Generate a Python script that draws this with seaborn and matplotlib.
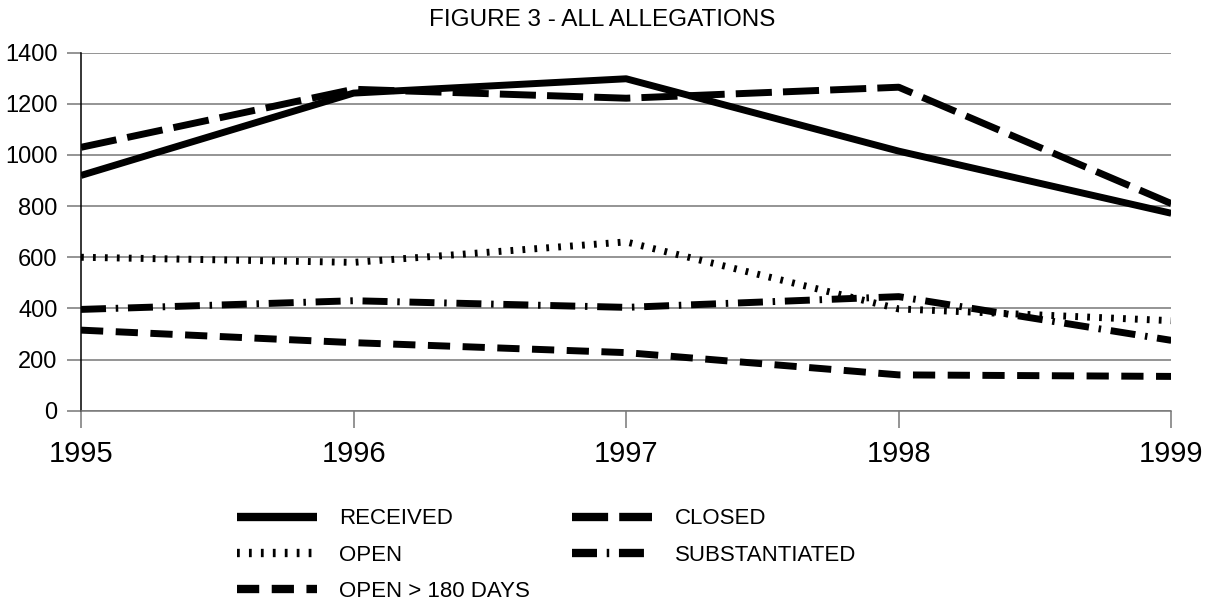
import numpy as np
import pandas as pd
import matplotlib
matplotlib.use("Agg")
import matplotlib.pyplot as plt
import seaborn as sns

# ---- data ----
years = [1995, 1996, 1997, 1998, 1999]
received = [920, 1242, 1298, 1015, 772]
closed = [1030, 1257, 1222, 1265, 810]
open_cases = [600, 580, 660, 398, 352]
substantiated = [396, 430, 404, 446, 275]
open_180 = [315, 266, 227, 140, 134]

series_names = ["RECEIVED", "OPEN", "OPEN > 180 DAYS", "CLOSED", "SUBSTANTIATED"]
series_values = [received, open_cases, open_180, closed, substantiated]

# dash patterns in points (scale_dashes off)
dash_styles = {
    "RECEIVED": None,
    "OPEN": (2.0, 6.6),
    "OPEN > 180 DAYS": (16, 9),
    "CLOSED": (26, 8),
    "SUBSTANTIATED": (18, 7, 1.8, 7),
}

sns.set_style("white")
plt.rcParams["font.family"] = ["Liberation Sans", "DejaVu Sans"]
plt.rcParams["lines.scale_dashes"] = False
plt.rcParams["lines.solid_capstyle"] = "butt"
plt.rcParams["lines.dash_capstyle"] = "butt"

fig = plt.figure(figsize=(12.11, 6.05), dpi=100)
ax = fig.add_axes([0.0669, 0.3212, 0.9003, 0.5917])

for name, vals in zip(series_names, series_values):
    sns.lineplot(x=years, y=vals, color="black", linewidth=5, label=name, ax=ax)
    if dash_styles[name] is not None:
        ax.lines[-1].set_dashes(dash_styles[name])

ax.set_xlim(1995, 1999)
ax.set_ylim(0, 1400)
ax.set_xticks(years)
ax.set_xticklabels([str(y) for y in years])
ax.set_yticks(range(0, 1401, 200))

ax.yaxis.grid(True, color="#777777", linewidth=1.1)
ax.set_axisbelow(True)
for s in ["top", "right"]:
    ax.spines[s].set_visible(False)
ax.spines["left"].set_color("black")
ax.spines["left"].set_linewidth(1.1)
ax.spines["bottom"].set_color("#777777")
ax.spines["bottom"].set_linewidth(1.1)

ax.tick_params(axis="y", length=10, width=1.1, color="#777777", pad=7,
               labelsize=17, labelcolor="black", left=True)
ax.tick_params(axis="x", length=12, width=1.1, color="#777777", pad=9,
               labelsize=21, labelcolor="black", bottom=True)
ax.xaxis.get_major_ticks()[0].tick1line.set_color("black")

fig.text(0.497, 1 - 20.5 / 605, "FIGURE 3 - ALL ALLEGATIONS", ha="center",
         va="center", fontsize=17.5, color="black")

leg = ax.legend(loc="center left", bbox_to_anchor=(0.1957, 0.0826),
                bbox_transform=fig.transFigure, ncol=2, frameon=False,
                fontsize=16, handlelength=3.6, handletextpad=1.0,
                columnspacing=1.9, labelspacing=0.68, borderpad=0,
                borderaxespad=0)
for txt in leg.get_texts():
    txt.set_color("black")
for ln in leg.get_lines():
    ln.set_linewidth(6)

fig.savefig("out.png", dpi=100)
